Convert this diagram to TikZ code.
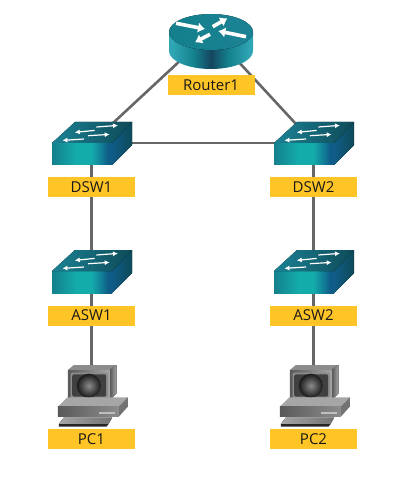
\documentclass[tikz,border=0pt]{standalone}
\usepackage{fontspec}
\setmainfont{Open Sans}
\usetikzlibrary{arrows.meta}
\definecolor{tagyellow}{HTML}{FFC425}
\definecolor{wiregray}{HTML}{666666}
\definecolor{tealdeep}{HTML}{14808C}
\definecolor{tealbright}{HTML}{14ABAB}
\definecolor{bluedeep}{HTML}{0F5C88}
\definecolor{topdark}{HTML}{0E4A58}
\definecolor{topmid}{HTML}{1B8294}
\definecolor{routerblue}{HTML}{15465F}
\definecolor{routerside}{HTML}{2FA5B5}
\pgfdeclarehorizontalshading{switchfront}{100bp}{color(0bp)=(tealdeep); color(25bp)=(tealdeep); color(45bp)=(tealbright); color(58bp)=(tealbright); color(72bp)=(bluedeep); color(100bp)=(bluedeep)}
\pgfdeclarehorizontalshading{routershade}{100bp}{color(0bp)=(routerside); color(27bp)=(routerside); color(40bp)=(tealdeep); color(50bp)=(routerblue); color(60bp)=(tealdeep); color(73bp)=(routerside); color(100bp)=(routerside)}
\tikzset{
  tag/.style={fill=tagyellow,minimum width=87,minimum height=20,inner sep=0,font=\fontsize{15}{16}\selectfont,text=black!90},
  spot/.style={inner sep=0,minimum size=1},
  wire/.style={draw=wiregray,line width=2.6},
  flowthin/.style={draw=white,line width=1.2,-{Latex[length=5,width=5]}},
  flowfat/.style={draw=white,line width=3.6,-{Latex[length=7,width=10.5]}},
  switchicon/.pic={
    \shade[shading=switchfront] (-39.5,0) rectangle (20.5,-22);
    \fill[left color=bluedeep,right color=topdark] (20.5,0) -- (40.5,21) -- (40.5,-2) -- (20.5,-22) -- cycle;
    \fill[left color=topmid,right color=topdark] (-39.5,0) -- (20.5,0) -- (40.5,21) -- (-16.5,21) -- cycle;
    \draw[flowthin] (4.9,16) -- (26.5,17.6);
    \draw[flowthin] (3.2,12.6) -- (-16.8,10.6);
    \draw[flowthin] (-3.5,7.3) -- (18.2,8.6);
    \draw[flowthin] (-7.5,4) -- (-29.1,2.6);
  },
  routericon/.pic={
    \shade[shading=routershade] (-42,0) -- (-42,-19) arc[start angle=180,end angle=360,x radius=42,y radius=18] -- (42,0) -- cycle;
    \fill[left color=tealdeep,right color=topmid] (0,0) ellipse[x radius=42,y radius=18];
    \draw[flowfat] (-35,8.7) -- (-6,3);
    \draw[flowfat] (1.7,5.3) -- (16.3,13.7);
    \draw[flowfat] (-1,-2.3) -- (-16,-10.3);
    \draw[flowfat] (35,-4.7) -- (7.3,1);
  },
  pcicon/.pic={
    \fill[black!45] (-23.7,30) -- (-17.7,35) -- (25,35) -- (18.3,30) -- cycle;
    \fill[left color=black!65,right color=black!35] (18.3,30) -- (25,35) -- (25,6.7) -- (18.3,0) -- cycle;
    \fill[left color=black!65,right color=black!35] (-23.7,30) rectangle (18.3,0);
    \fill[black!45,rounded corners=2] (-21,27.5) rectangle (16.5,1.5);
    \fill[black!75,rounded corners=2] (-19.3,25.7) rectangle (14.7,3.3);
    \shade[inner color=black!45,outer color=black!90] (-2.7,14.3) circle[radius=12];
    \fill[black!35] (-33.7,-6.7) -- (-24.3,2.7) -- (36.3,2.7) -- (27.3,-6.7) -- cycle;
    \fill[black!55] (27.3,-6.7) -- (36.3,2.7) -- (36.3,-6.7) -- (27.3,-16.7) -- cycle;
    \fill[left color=black!65,right color=black!45] (-33.7,-6.7) rectangle (27.3,-16.7);
    \fill[black!25] (7.3,-12.3) rectangle (23,-13.5);
    \fill[left color=black!35,right color=black!55] (-27.7,-17.5) -- (20.7,-17.5) -- (17,-24) -- (-32.7,-24) -- cycle;
    \fill[black!85] (-32.7,-24) -- (17,-24) -- (15,-26.7) -- (-32.7,-26.7) -- cycle;
  }
}
\begin{document}
\begin{tikzpicture}[x=1pt,y=1pt]
  \useasboundingbox (0,0) rectangle (402,-486);
  \node[spot] (router1) at (211,-32) {};
  \node[spot] (dsw1) at (91.5,-143) {};
  \node[spot] (dsw2) at (313.5,-143) {};
  \node[spot] (asw1) at (91.5,-271) {};
  \node[spot] (asw2) at (313.5,-271) {};
  \node[spot] (pc1) at (91.5,-400) {};
  \node[spot] (pc2) at (313.5,-400) {};
  \begin{scope}[wire]
    \draw (router1) to (dsw1);
    \draw (router1) to (dsw2);
    \draw (dsw1) to (dsw2);
    \draw (dsw1) to (asw1);
    \draw (dsw2) to (asw2);
    \draw (asw1) to (pc1);
    \draw (asw2) to (pc2);
  \end{scope}
  \pic at (router1) {routericon};
  \pic at (dsw1) {switchicon};
  \pic at (dsw2) {switchicon};
  \pic at (asw1) {switchicon};
  \pic at (asw2) {switchicon};
  \pic at (pc1) {pcicon};
  \pic at (pc2) {pcicon};
  \node[tag] (router1tag) at (211,-85.5) {Router1};
  \node[tag] (dsw1tag) at (91.5,-187) {DSW1};
  \node[tag] (dsw2tag) at (313.5,-187) {DSW2};
  \node[tag] (asw1tag) at (91.5,-315.5) {ASW1};
  \node[tag] (asw2tag) at (313.5,-315.5) {ASW2};
  \node[tag] (pc1tag) at (91.5,-439) {PC1};
  \node[tag] (pc2tag) at (313.5,-439) {PC2};
\end{tikzpicture}
\end{document}
